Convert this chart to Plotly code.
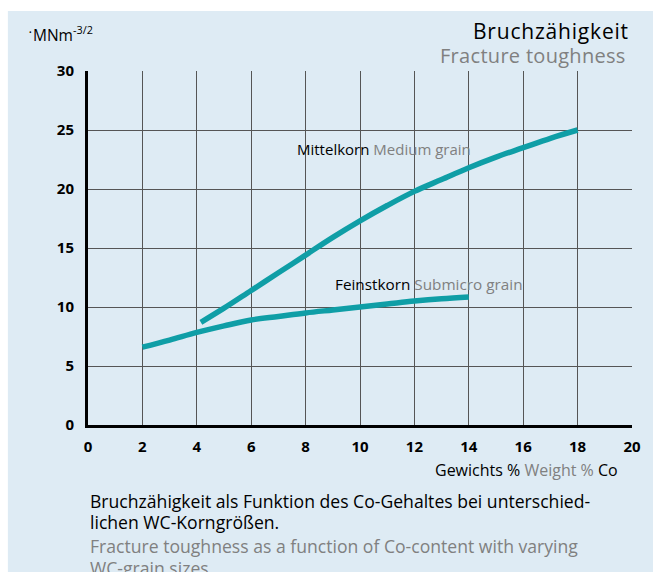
import plotly.graph_objects as go

# Fracture toughness (MNm^-3/2) vs. cobalt content (weight %)
co_medium = [4.15, 5, 6, 7, 8, 9, 10, 11, 12, 13, 14, 15, 16, 17, 18]
k_medium = [8.7, 9.9, 11.4, 12.9, 14.4, 15.9, 17.3, 18.6, 19.8, 20.8, 21.8, 22.7, 23.5, 24.3, 25.0]

co_submicro = [2, 3, 4, 5, 6, 7, 8, 9, 10, 11, 12, 13, 14]
k_submicro = [6.6, 7.2, 7.85, 8.4, 8.9, 9.2, 9.5, 9.75, 10.0, 10.25, 10.5, 10.7, 10.85]

x_ticks = list(range(0, 21, 2))
y_ticks = list(range(0, 31, 5))

TEAL = "#0f9ea6"
GREY = "#808080"
BLUE_BG = "#deebf4"
FONT = "Open Sans"

fig = go.Figure()
for xs, ys in [(co_medium, k_medium), (co_submicro, k_submicro)]:
    fig.add_trace(go.Scatter(x=xs, y=ys, mode="lines",
                             line=dict(color=TEAL, width=5.5, shape="spline"),
                             showlegend=False, hoverinfo="skip"))

axis_common = dict(showgrid=True, gridcolor="#555555", gridwidth=1.3,
                   zeroline=False, showline=True, linecolor="black", linewidth=3,
                   ticks="", tickfont=dict(family=FONT, size=15, color="black", weight="bold"),
                   fixedrange=True)

fig.update_xaxes(range=[0, 20], tickvals=x_ticks, ticklabelstandoff=6, **axis_common)
fig.update_yaxes(range=[0, 30], tickvals=y_ticks, ticklabelstandoff=8, **axis_common)

shapes = [
    # light blue panel behind everything
    dict(type="rect", xref="paper", yref="paper", x0=-0.1473, x1=1.2, y0=-0.6, y1=1.1695,
         fillcolor=BLUE_BG, line=dict(width=0), layer="below"),
    # small axis overhang at the origin
    dict(type="line", xref="x", yref="y", ysizemode="pixel", yanchor=0, x0=0, x1=0, y0=-7, y1=0,
         line=dict(color="black", width=3)),
    dict(type="line", xref="x", yref="y", xsizemode="pixel", xanchor=0, x0=-7, x1=0, y0=0, y1=0,
         line=dict(color="black", width=3)),
]

def ann(text, x, y, size, color="black", xanchor="left", yanchor="middle", xref="paper", yref="paper"):
    return dict(text=text, x=x, y=y, xref=xref, yref=yref, showarrow=False,
                xanchor=xanchor, yanchor=yanchor,
                font=dict(family=FONT, size=size, color=color))

def grey(s):
    return "<span style='color:" + GREY + "'>" + s + "</span>"

def spaced(s, px):
    return "<span style='letter-spacing:" + str(px) + "px'>" + s + "</span>"

annotations = [
    ann(spaced("Bruchzähigkeit", 0.8), 0.998, 1.112, 21, xanchor="right"),
    ann(spaced("Fracture toughness", 0.3), 0.993, 1.043, 20, color=GREY, xanchor="right"),
    ann("MNm<sup>-3/2</sup>", -0.105, 1.105, 15.5),
    ann("Mittelkorn " + grey("Medium grain"), 7.6, 23.4, 15, xref="x", yref="y"),
    ann("Feinstkorn " + grey("Submicro grain"), 9.0, 11.95, 15.3, xref="x", yref="y"),
    ann("Gewichts % " + grey("Weight %") + " Co", 0.978, -0.126, 16, xanchor="right"),
    ann("Bruchzähigkeit als Funktion des Co-Gehaltes bei unterschied-", 0.0, -0.215, 17.6),
    ann("lichen WC-Korngrößen.", 0.0, -0.275, 17.6),
    ann("Fracture toughness as a function of Co-content with varying", 0.0, -0.343, 17.6, color=GREY),
    ann("WC-grain sizes.", 0.0, -0.403, 17.6, color=GREY),
    ann("•", -0.112, 1.11, 7),
]

fig.update_layout(
    width=653, height=572,
    margin=dict(l=88, r=15, t=71, b=147),
    paper_bgcolor="white", plot_bgcolor="white",
    shapes=shapes, annotations=annotations,
    font=dict(family=FONT),
)

fig.write_html("out.html")
